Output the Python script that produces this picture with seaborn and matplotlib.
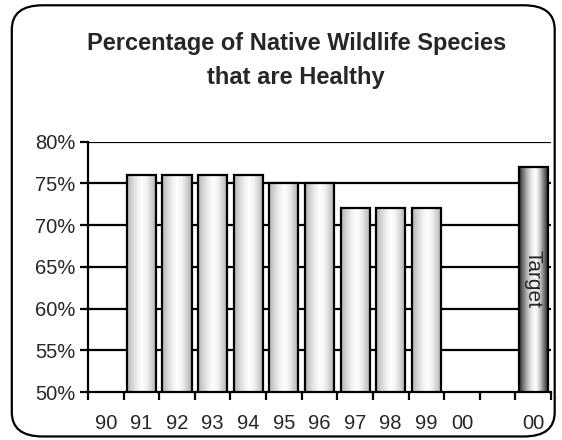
import numpy as np
import matplotlib
matplotlib.use('Agg')
import matplotlib.pyplot as plt
from matplotlib.colors import LinearSegmentedColormap
from matplotlib.patches import FancyBboxPatch
import seaborn as sns

# data
keys = ['90', '91', '92', '93', '94', '95', '96', '97', '98', '99', '00', 'gap', 'Target']
tick_labels = ['90', '91', '92', '93', '94', '95', '96', '97', '98', '99', '00', '', '00']
values = [np.nan, 76, 76, 76, 76, 75, 75, 72, 72, 72, np.nan, np.nan, 77]
y_ticks = [50, 55, 60, 65, 70, 75, 80]

sns.set_theme(style='white')
plt.rcParams['font.family'] = ['Liberation Sans', 'DejaVu Sans']

fig = plt.figure(figsize=(5.62, 4.4), dpi=100)
ax = fig.add_axes([0.1566, 0.109, 0.8238, 0.569])

plot_vals = [0 if np.isnan(v) else v for v in values]
sns.barplot(x=keys, y=plot_vals, order=keys, color='white', width=0.82,
            edgecolor='black', linewidth=1.6, ax=ax, zorder=3)

light = LinearSegmentedColormap.from_list('light', ['#b4b4b4', '#d4d4d4', '#eeeeee', '#ffffff',
                                                    '#f2f2f2', '#d2d2d2', '#acacac'])
dark = LinearSegmentedColormap.from_list('dark', ['#2a2a2a', '#7a7a7a', '#bdbdbd', '#ececec',
                                                  '#ffffff', '#c4c4c4', '#6c6c6c', '#1c1c1c'])
grad = np.linspace(0, 1, 64).reshape(1, -1)

for i, p in enumerate(ax.patches):
    if np.isnan(values[i]):
        p.set_visible(False)
        continue
    p.set_facecolor('none')
    x0 = p.get_x()
    w = p.get_width()
    cmap = dark if keys[i] == 'Target' else light
    im = ax.imshow(grad, cmap=cmap, aspect='auto', extent=[x0, x0 + w, 50, values[i]],
                   zorder=2.5, interpolation='bilinear')
    im.set_clip_path(p)

# target label
ti = keys.index('Target')
ax.text(ti, 63.5, 'Target', rotation=-90, ha='center', va='center', fontsize=15, zorder=4)

ax.set_xlim(-0.5, len(keys) - 0.5)
ax.set_ylim(50, 80)
ax.set_yticks(y_ticks)
ax.set_yticklabels([f'{t}%' for t in y_ticks], fontsize=14.5)
for t in y_ticks[1:]:
    ax.axhline(t, color='black', linewidth=1.6, zorder=1)

# x ticks at category boundaries, labels at centres
ax.set_xticks(np.arange(-0.5, len(keys)), minor=False)
ax.set_xticklabels([])
ax.set_xticks(np.arange(len(keys)), minor=True)
ax.set_xticklabels(tick_labels, minor=True, fontsize=14.5)
ax.tick_params(axis='x', which='major', direction='out', length=6, width=1.6, color='black', bottom=True)
ax.tick_params(axis='x', which='minor', length=0, pad=16, bottom=True)
ax.tick_params(axis='y', direction='out', length=6, width=1.6, color='black', left=True, pad=3)
ax.set_xlabel('')
ax.set_ylabel('')

for s in ['top', 'right']:
    ax.spines[s].set_visible(False)
for s in ['left', 'bottom']:
    ax.spines[s].set_color('black')
    ax.spines[s].set_linewidth(1.6)

fig.text(0.527, 0.862, 'Percentage of Native Wildlife Species\nthat are Healthy',
         ha='center', va='center', fontsize=17, fontweight='bold', linespacing=1.6)

border = FancyBboxPatch((0.021, 0.008), 0.966, 0.98, boxstyle='round,pad=0,rounding_size=0.055',
                        transform=fig.transFigure, fill=False, edgecolor='black', linewidth=1.6)
fig.patches.append(border)

fig.savefig('out.png', dpi=100)
